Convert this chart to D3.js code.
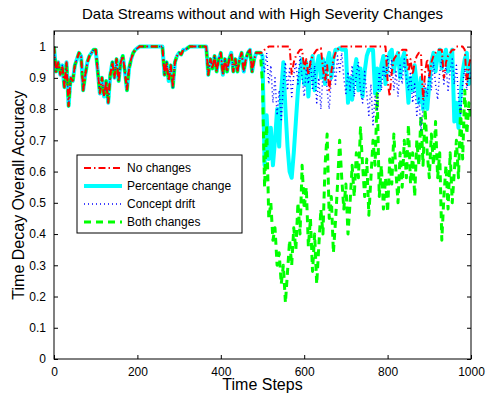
<!DOCTYPE html>
<html>
<head>
<meta charset="utf-8">
<script src="https://cdn.jsdelivr.net/npm/d3@7"></script>
<style>
  body { margin: 0; background: #fff; }
  svg text { font-family: "Liberation Sans", Arial, Helvetica, sans-serif; fill: #000; }
</style>
</head>
<body>
<div id="chart"></div>
<script>
// tidsakse, et punkt for hvert 5. skridt
var steps = d3.range(0, 1001, 5);

// de foerste 500 skridt er ens for alle fire serier (t = 0..495)
var firstHalf = [
    1.00, 0.92, 0.95, 0.91, 0.94, 0.87, 0.95, 0.81, 0.90, 0.89,
    0.94, 0.96, 0.98, 0.97, 0.86, 0.91, 0.95, 0.97, 0.98, 0.99,
    0.99, 0.92, 0.85, 0.90, 0.84, 0.89, 0.82, 0.91, 0.95, 0.90,
    0.96, 0.89, 0.95, 0.97, 0.92, 0.86, 0.93, 0.96, 0.98, 0.99,
    0.995, 1, 1, 1, 1, 1, 1, 1, 1, 1,
    1, 1, 1, 0.91, 0.95, 0.89, 0.94, 0.87, 0.95, 0.97,
    0.98, 0.975, 0.99, 0.99, 0.995, 1, 1, 1, 1, 1,
    1, 1, 1, 1, 0.91, 0.96, 0.93, 0.97, 0.92, 0.96,
    0.98, 0.91, 0.96, 0.92, 0.96, 0.98, 0.92, 0.96, 0.92, 0.96,
    0.98, 0.92, 0.96, 0.98, 0.99, 0.92, 0.96, 0.98, 0.98, 0.98
];

// t = 500..1000
var noChangesTail = [
    0.98, 0.99, 0.995, 1, 1, 1, 1, 1, 1, 1,
    1, 1, 1, 1, 0.91, 0.95, 0.97, 0.98, 0.99, 0.99,
    0.93, 0.96, 0.91, 0.95, 0.97, 0.98, 0.99, 0.99, 0.995, 0.93,
    0.89, 0.94, 0.86, 0.92, 0.96, 0.98, 0.99, 1, 1, 1,
    1, 1, 1, 1, 1, 1, 1, 1, 1, 1,
    1, 1, 1, 1, 1, 1, 1, 1, 1, 1,
    0.89, 0.84, 0.92, 0.96, 0.97, 0.98, 0.98, 0.99, 0.99, 0.99,
    0.92, 0.96, 0.91, 0.95, 0.97, 0.98, 0.98, 0.83, 0.92, 0.96,
    0.90, 0.95, 0.97, 0.98, 0.99, 0.99, 0.99, 0.90, 0.95, 0.97,
    0.98, 0.99, 0.99, 1, 1, 1, 1, 0.99, 0.88, 0.94,
    0.97
];

var percentageTail = [
    0.97, 0.62, 0.78, 0.64, 0.74, 0.62, 0.70, 0.80, 0.68, 0.86,
    0.95, 0.80, 0.68, 0.60, 0.58, 0.66, 0.76, 0.86, 0.92, 0.96,
    0.88, 0.95, 0.84, 0.93, 0.97, 0.86, 0.94, 0.97, 0.90, 0.96,
    0.88, 0.95, 0.98, 0.90, 0.96, 0.99, 0.99, 0.995, 0.99, 0.99,
    0.99, 0.82, 0.90, 0.83, 0.92, 0.96, 0.86, 0.93, 0.84, 0.92,
    0.97, 0.99, 0.99, 0.99, 0.85, 0.93, 0.86, 0.94, 0.97, 0.88,
    0.95, 0.98, 0.99, 0.92, 0.96, 0.98, 0.90, 0.96, 0.98, 0.92,
    0.82, 0.90, 0.86, 0.94, 0.88, 0.82, 0.90, 0.80, 0.86, 0.80,
    0.88, 0.95, 0.98, 0.92, 0.97, 0.99, 0.93, 0.97, 0.99, 0.92,
    0.97, 0.99, 0.76, 0.82, 0.74, 0.84, 0.92, 0.96, 0.98, 0.88,
    0.95
];

var conceptTail = [
    0.97, 0.92, 0.98, 0.88, 0.94, 0.82, 0.90, 0.78, 0.86, 0.76,
    0.88, 0.95, 0.86, 0.93, 0.84, 0.91, 0.95, 0.88, 0.97, 0.90,
    0.84, 0.93, 0.88, 0.96, 0.86, 0.94, 0.82, 0.90, 0.80, 0.91,
    0.95, 0.86, 0.80, 0.90, 0.95, 0.88, 0.97, 0.92, 0.98, 0.90,
    0.85, 0.92, 0.86, 0.94, 0.84, 0.91, 0.95, 0.86, 0.82, 0.92,
    0.85, 0.78, 0.88, 0.75, 0.84, 0.80, 0.92, 0.86, 0.94, 0.90,
    0.97, 0.90, 0.96, 0.86, 0.92, 0.84, 0.94, 0.88, 0.96, 0.90,
    0.86, 0.92, 0.82, 0.88, 0.78, 0.84, 0.73, 0.80, 0.88, 0.84,
    0.92, 0.86, 0.95, 0.88, 0.83, 0.92, 0.96, 0.88, 0.94, 0.86,
    0.92, 0.96, 0.88, 0.94, 0.84, 0.78, 0.88, 0.93, 0.86, 0.94,
    0.90
];

var bothTail = [
    0.88, 0.55, 0.75, 0.45, 0.50, 0.38, 0.42, 0.30, 0.34, 0.24,
    0.30, 0.18, 0.28, 0.38, 0.30, 0.42, 0.35, 0.50, 0.40, 0.62,
    0.48, 0.55, 0.36, 0.45, 0.28, 0.40, 0.24, 0.36, 0.48, 0.40,
    0.62, 0.72, 0.45, 0.52, 0.34, 0.44, 0.56, 0.70, 0.58, 0.48,
    0.56, 0.40, 0.50, 0.62, 0.52, 0.66, 0.58, 0.74, 0.62, 0.52,
    0.64, 0.46, 0.58, 0.70, 0.62, 0.85, 0.52, 0.62, 0.48, 0.58,
    0.47, 0.64, 0.56, 0.72, 0.60, 0.50, 0.66, 0.55, 0.70, 0.58,
    0.75, 0.56, 0.66, 0.52, 0.70, 0.62, 0.78, 0.62, 0.80, 0.66,
    0.58, 0.72, 0.62, 0.76, 0.58, 0.66, 0.38, 0.52, 0.62, 0.48,
    0.66, 0.50, 0.60, 0.70, 0.58, 0.80, 0.64, 0.86, 0.72, 0.82,
    0.76
];

var noChanges = firstHalf.concat(noChangesTail);
var percentageChange = firstHalf.concat(percentageTail);
var conceptDrift = firstHalf.concat(conceptTail);
var bothChanges = firstHalf.concat(bothTail);

var xTicks = [0, 200, 400, 600, 800, 1000];
var yTicks = [0, 0.1, 0.2, 0.3, 0.4, 0.5, 0.6, 0.7, 0.8, 0.9, 1];

// serierne med stil - tegnes i denne raekkefoelge (cyan nederst)
var series = [
    { name: "Percentage change", values: percentageChange, color: "#00ffff", width: 4, dash: null },
    { name: "Both changes", values: bothChanges, color: "#00ff00", width: 3, dash: "7,5" },
    { name: "Concept drift", values: conceptDrift, color: "#0000ff", width: 1.5, dash: "1,3" },
    { name: "No changes", values: noChanges, color: "#ff0000", width: 2, dash: "7,3,1.5,3" }
];
var legendOrder = ["No changes", "Percentage change", "Concept drift", "Both changes"];

var w = 487;
var h = 394;

var svg = d3.select("#chart")
    .append("svg")
    .attr("width", w)
    .attr("height", h);

// plotomraadets kanter ("top" er optaget af window.top)
var mLeft = 54, mRight = 471, mTop = 31, mBottom = 359;

var xScale = d3.scaleLinear().domain([0, 1000]).range([mLeft, mRight]);
var yScale = d3.scaleLinear().domain([0, 1.05]).range([mBottom, mTop]);

// linjerne, klippet til plotomraadet
svg.append("clipPath").attr("id", "clip")
    .append("rect")
    .attr("x", mLeft).attr("y", mTop)
    .attr("width", mRight - mLeft).attr("height", mBottom - mTop);

var line = d3.line()
    .x(function (d, i) { return xScale(steps[i]); })
    .y(function (d) { return yScale(d); });

var plot = svg.append("g").attr("clip-path", "url(#clip)");
series.forEach(function (s) {
    plot.append("path")
        .datum(s.values)
        .attr("d", line)
        .style("fill", "none")
        .style("stroke", s.color)
        .style("stroke-width", s.width)
        .style("stroke-dasharray", s.dash)
        .style("stroke-linejoin", "round");
});

// akser med ticks indad paa alle fire sider
var fmt = function (d) { return String(+d.toFixed(1)); };

svg.append("g")
    .attr("transform", "translate(0," + mBottom + ")")
    .call(d3.axisBottom(xScale).tickValues(xTicks).tickSize(-4).tickPadding(8).tickFormat(d3.format("d")));
svg.append("g")
    .attr("transform", "translate(0," + mTop + ")")
    .call(d3.axisTop(xScale).tickValues(xTicks).tickSize(-4).tickFormat(""));
svg.append("g")
    .attr("transform", "translate(" + mLeft + ",0)")
    .call(d3.axisLeft(yScale).tickValues(yTicks).tickSize(-4).tickPadding(8).tickFormat(fmt));
svg.append("g")
    .attr("transform", "translate(" + mRight + ",0)")
    .call(d3.axisRight(yScale).tickValues(yTicks).tickSize(-4).tickFormat(""));

svg.selectAll(".domain").remove();
svg.selectAll(".tick line").style("stroke", "#000");
svg.selectAll(".tick text")
    .style("font-size", "12px")
    .style("font-family", "Liberation Sans, Arial, sans-serif");

svg.append("rect")
    .attr("x", mLeft).attr("y", mTop)
    .attr("width", mRight - mLeft).attr("height", mBottom - mTop)
    .style("fill", "none")
    .style("stroke", "#000")
    .style("stroke-width", 1);

// titel og aksetekster
svg.append("text")
    .attr("x", (mLeft + mRight) / 2)
    .attr("y", 19)
    .attr("text-anchor", "middle")
    .style("font-size", "15px")
    .text("Data Streams without and with High Severity Changes");

svg.append("text")
    .attr("x", (mLeft + mRight) / 2)
    .attr("y", 390)
    .attr("text-anchor", "middle")
    .style("font-size", "16px")
    .text("Time Steps");

svg.append("text")
    .attr("text-anchor", "middle")
    .attr("transform", "translate(24," + (mTop + mBottom) / 2 + ") rotate(-90)")
    .style("font-size", "16px")
    .text("Time Decay Overall Accuracy");

// legende
var legend = svg.append("g");
legend.append("rect")
    .attr("x", 77).attr("y", 155)
    .attr("width", 165).attr("height", 78)
    .style("fill", "#fff")
    .style("stroke", "#000")
    .style("stroke-width", 1);

legendOrder.forEach(function (name, i) {
    var s = series.find(function (d) { return d.name === name; });
    var y = 168 + i * 18;
    legend.append("line")
        .attr("x1", 84).attr("x2", 122)
        .attr("y1", y).attr("y2", y)
        .style("stroke", s.color)
        .style("stroke-width", s.width)
        .style("stroke-dasharray", s.dash);
    legend.append("text")
        .attr("x", 127).attr("y", y)
        .attr("dy", "0.35em")
        .style("font-size", "12px")
        .text(name);
});
</script>
</body>
</html>
